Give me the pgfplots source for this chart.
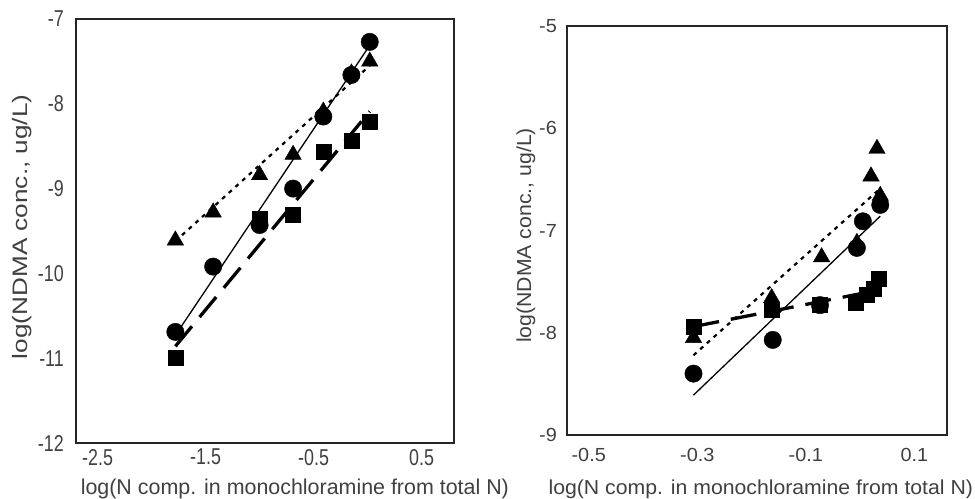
\documentclass[border=0pt]{standalone}
\usepackage{fontspec}
\setmainfont{Liberation Sans}
\newfontfamily\fA{Liberation Sans}[FakeStretch=0.78]
\newfontfamily\fB{Liberation Sans}[FakeStretch=1.25]
\newfontfamily\fC{Liberation Sans}[FakeStretch=1.05]
\usepackage{pgfplots}
\pgfplotsset{compat=1.18}
\definecolor{txt}{HTML}{404040}
\definecolor{frame}{HTML}{262626}

\pgfplotsset{
  panel/.style={scale only axis, clip=false,
    axis line style={draw=frame, line width=1.4bp},
    major tick length=0pt, tick style={draw=none}},
  tri/.style={only marks, mark=triangle*, mark size=9.5bp, mark options={draw=black, fill=black}},
  circ/.style={only marks, mark=*, mark size=8.7bp, mark options={draw=black, fill=black}},
  sq/.style={only marks, mark=square*, mark size=7.5bp, mark options={draw=black, fill=black}},
  solidfit/.style={black, no marks, line width=1.3bp},
  dotfit/.style={black, no marks, line width=2.2bp, dash pattern=on 4bp off 5bp},
  dashfit/.style={black, no marks, line width=3.3bp, dash pattern=on 26bp off 12bp},
}

\begin{document}
\begin{tikzpicture}
\useasboundingbox (0,0) rectangle (975bp,499bp);

% left panel
\begin{axis}[panel,
  at={(76bp,56bp)}, anchor=south west,
  width=378bp, height=424bp,
  xmin=-2.7, xmax=0.8, ymin=-12, ymax=-7,
  xtick={-2.5,-1.5,-0.5,0.5}, xticklabels={-2.5,-1.5,-0.5,0.5},
  ytick={-12,-11,-10,-9,-8,-7}, yticklabels={-12,-11,-10,-9,-8,-7},
  xticklabel style={font=\fA\fontsize{23}{23}\selectfont, text=txt, anchor=north, inner sep=0pt, yshift=-6bp},
  yticklabel style={font=\fA\fontsize{23}{23}\selectfont, text=txt, anchor=east, inner sep=0pt, xshift=-12bp},
  xlabel={log(N comp. in monochloramine from total N)},
  xlabel style={font=\fontsize{21.5}{21.5}\selectfont, text=txt, at={(axis description cs:0.579,0)}, anchor=base, yshift=-51bp},
  ylabel={log(NDMA conc., ug/L)},
  ylabel style={font=\fB\fontsize{21}{21}\selectfont, text=txt, at={(axis description cs:-0.143,0.51)}, anchor=center},
]
\addplot[dotfit] coordinates {(-1.78,-9.62) (0.02,-7.55)};
\addplot[solidfit] coordinates {(-1.78,-10.73) (0.02,-7.31)};
\addplot[dashfit] coordinates {(-1.78,-10.86) (0.02,-8.09)};
\addplot[tri] coordinates {(-1.78,-9.61) (-1.43,-9.28) (-1.0,-8.84) (-0.69,-8.60) (-0.41,-8.09) (-0.15,-7.64) (0.02,-7.50)};
\addplot[sq] coordinates {(-1.78,-10.99) (-1.0,-9.35) (-0.69,-9.31) (-0.41,-8.56) (-0.15,-8.43) (0.02,-8.21)};
\addplot[circ] coordinates {(-1.78,-10.69) (-1.43,-9.92) (-1.0,-9.43) (-0.69,-9.00) (-0.41,-8.15) (-0.15,-7.66) (0.02,-7.27)};
\end{axis}

% right panel
\begin{axis}[panel,
  at={(567bp,64bp)}, anchor=south west,
  width=380bp, height=409bp,
  xmin=-0.54, xmax=0.16, ymin=-9, ymax=-5,
  xtick={-0.5,-0.3,-0.1,0.1}, xticklabels={-0.5,-0.3,-0.1,0.1},
  ytick={-9,-8,-7,-6,-5}, yticklabels={-9,-8,-7,-6,-5},
  xticklabel style={font=\fC\fontsize{19}{19}\selectfont, text=txt, anchor=north, inner sep=0pt, yshift=-13bp},
  yticklabel style={font=\fC\fontsize{19}{19}\selectfont, text=txt, anchor=east, inner sep=0pt, xshift=-10bp},
  xlabel={log(N comp. in monochloramine from total N)},
  xlabel style={font=\fC\fontsize{20.3}{20.3}\selectfont, text=txt, at={(axis description cs:0.51,0)}, anchor=base, yshift=-59bp},
  ylabel={log(NDMA conc., ug/L)},
  ylabel style={font=\fC\fontsize{20.3}{20.3}\selectfont, text=txt, at={(axis description cs:-0.108,0.488)}, anchor=center},
]
\addplot[dotfit] coordinates {(-0.307,-8.22) (0.037,-6.59)};
\addplot[solidfit] coordinates {(-0.307,-8.61) (0.037,-6.86)};
\addplot[dashfit] coordinates {(-0.307,-7.94) (0.037,-7.58)};
\addplot[tri] coordinates {(-0.307,-8.05) (-0.163,-7.66) (-0.071,-7.26) (-0.006,-7.12) (0.020,-6.47) (0.031,-6.20) (0.037,-6.66)};
\addplot[sq] coordinates {(-0.307,-7.94) (-0.163,-7.77) (-0.074,-7.73) (-0.009,-7.71) (0.012,-7.63) (0.025,-7.57) (0.034,-7.47)};
\addplot[circ] coordinates {(-0.307,-8.40) (-0.161,-8.07) (-0.074,-7.73) (-0.006,-7.17) (0.005,-6.91) (0.037,-6.75)};
\end{axis}
\end{tikzpicture}
\end{document}
